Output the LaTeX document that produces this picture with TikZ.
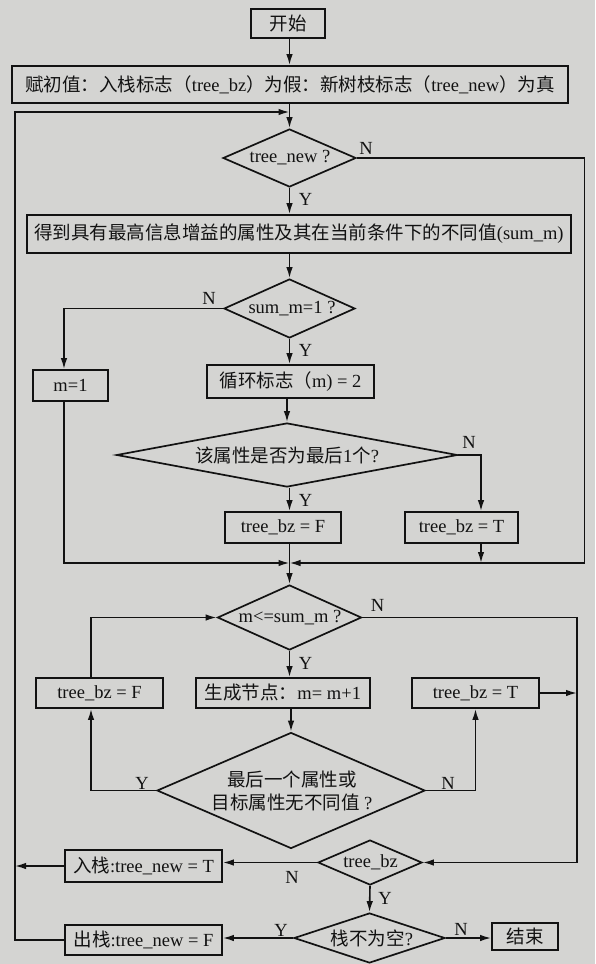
\documentclass[tikz,border=0pt]{standalone}
\usepackage{fontspec}
\setmainfont{Liberation Serif}
\newfontfamily\cjk{Noto Sans CJK SC}
\newcommand{\zhtxt}[1]{{\cjk #1}}
\usetikzlibrary{arrows.meta,shapes.geometric,calc}
\definecolor{bgc}{RGB}{212,212,210}
\definecolor{ink}{RGB}{18,18,18}
\begin{document}
\begin{tikzpicture}[x=1pt,y=-1pt,
  every node/.style={font=\fontsize{18.5}{23}\selectfont, text=ink},
  box/.style={draw=ink, line width=1.7pt, inner sep=0pt, rectangle},
  dia/.style={draw=ink, line width=1.7pt, diamond, inner sep=0pt},
  ln/.style={draw=ink, line width=1.6pt},
  arr/.style={ln, -{Latex[length=11pt,width=6.5pt]}},
  yn/.style={inner sep=0pt}
]
\fill[bgc] (0,0) rectangle (595,964);
\useasboundingbox (0,0) rectangle (595,964);

% boxes
\node[box, minimum width=74pt, minimum height=29pt] (start) at (288,23.5) {\zhtxt{开始}};
\node[box, minimum width=556pt, minimum height=37pt] (init) at (290,84.5)
  {\zhtxt{赋初值：入栈标志（}tree\_bz\zhtxt{）为假：新树枝标志（}tree\_new\zhtxt{）为真}};
\node[box, minimum width=544pt, minimum height=38pt] (b1) at (299,234)
  {\zhtxt{得到具有最高信息增益的属性及其在当前条件下的不同值}(sum\_m)};
\node[box, minimum width=75pt, minimum height=31pt] (m1) at (70.5,385.5) {m=1};
\node[box, minimum width=167pt, minimum height=33pt] (b2) at (290.5,381.5) {\zhtxt{循环标志（}m) = 2};
\node[box, minimum width=116pt, minimum height=31pt] (bF1) at (283,527.5) {tree\_bz = F};
\node[box, minimum width=113pt, minimum height=31pt] (bT1) at (461.5,527.5) {tree\_bz = T};
\node[box, minimum width=127pt, minimum height=30pt] (bF2) at (99.5,693) {tree\_bz = F};
\node[box, minimum width=174pt, minimum height=30pt] (b3) at (283,693) {\zhtxt{生成节点：}m= m+1};
\node[box, minimum width=127pt, minimum height=30pt] (bT2) at (475.5,693) {tree\_bz = T};
\node[box, minimum width=157pt, minimum height=32pt] (push) at (143.5,866) {\zhtxt{入栈}:tree\_new = T};
\node[box, minimum width=157pt, minimum height=30pt] (pop) at (143.5,940) {\zhtxt{出栈}:tree\_new = F};
\node[box, minimum width=66pt, minimum height=27pt] (end) at (525,936.5) {\zhtxt{结束}};

% diamonds
\node[dia, minimum width=133pt, minimum height=58pt] (d1) at (289.5,158) {};
\node (t1) at (290,158) {tree\_new ?};
\node[dia, minimum width=131pt, minimum height=59pt] (d2) at (289.5,308.5) {};
\node (t2) at (292,308.5) {sum\_m=1 ?};
\node[dia, minimum width=341pt, minimum height=64pt] (d3) at (287,455) {};
\node (t3) at (287,455) {\zhtxt{该属性是否为最后}1\zhtxt{个}?};
\node[dia, minimum width=144pt, minimum height=65pt] (d4) at (289.5,617.5) {};
\node (t4) at (290,617.5) {m<=sum\_m ?};
\node[dia, minimum width=268pt, minimum height=116pt] (d5) at (291,790.5) {};
\node[align=center] (t5) at (292,791) {\zhtxt{最后一个属性或}\\\zhtxt{目标属性无不同值} ?};
\node[dia, minimum width=104pt, minimum height=45pt] (d6) at (370,862.5) {};
\node (t6) at (370.5,862.5) {tree\_bz};
\node[dia, minimum width=151pt, minimum height=50pt] (d7) at (369.5,938) {};
\node (t7) at (372,938) {\zhtxt{栈不为空}?};

% helper coordinates
\coordinate (jtop) at (289.5,112);
\coordinate (lx) at (15,112);
\coordinate (j1) at (289.5,563);
\coordinate (rx1) at (584.5,563);
\coordinate (rx2) at (577,862.5);

% connectors
\draw[arr] (start.south -| d1) -- (init.north -| d1);
\draw[arr] (init.south -| d1) -- (d1.north);
\draw[arr] (pop.west) -| (lx) -- (jtop);
\draw[arr] (push.west) -- (push.west -| lx);
\draw[arr] (d1.east) -| (rx1) -- (j1);
\draw[arr] (d1.south) -- (d1.south |- b1.north);
\draw[arr] (b1.south -| d2) -- (d2.north);
\draw[arr] (d2.west) -| ([xshift=-6.5pt]m1.north);
\draw[arr] (d2.south) -- (d2.south |- b2.north);
\draw[arr] (b2.south -| d3.north) -- (d3.north);
\draw[arr] (d3.east) -| ([xshift=19.5pt]bT1.north);
\draw[arr] (d3.south -| j1) -- (bF1.north -| j1);
\draw[arr] ([xshift=19.5pt]bT1.south) -- ([xshift=19.5pt]bT1.south |- j1);
\draw[arr] ([xshift=-6.5pt]m1.south) |- (j1);
\draw[ln] (bF1.south -| j1) -- (j1);
\draw[arr] (j1) -- (d4.north);
\draw[arr] (d4.east) -| (rx2) -- (d6.east);
\draw[arr] (d4.south) -- (d4.south |- b3.north);
\draw[arr] (b3.south -| d5) -- (d5.north);
\draw[arr] (d5.west) -| ([xshift=-8.5pt]bF2.south);
\draw[arr] ([xshift=-8.5pt]bF2.north) |- (d4.west);
\draw[arr] (d5.east) -| (bT2.south);
\draw[arr] (bT2.east) -- (bT2.east -| rx2);
\draw[arr] (d6.west) -- (d6.west -| push.east);
\draw[arr] (d6.south) -- (d7.north);
\draw[arr] (d7.west) -- (d7.west -| pop.east);
\draw[arr] (d7.east) -- (d7.east -| end.west);

% Y / N labels
\node[yn] (n1) at (366,148) {N};
\node[yn] (y1) at (305.5,199) {Y};
\node[yn] (n2) at (209,298) {N};
\node[yn] (y2) at (305.5,350) {Y};
\node[yn] (n3) at (469,442) {N};
\node[yn] (y3) at (305.5,500) {Y};
\node[yn] (n4) at (377.5,605) {N};
\node[yn] (y4) at (305.5,663) {Y};
\node[yn] (y5) at (142,783) {Y};
\node[yn] (n5) at (448,783) {N};
\node[yn] (n6) at (292,877) {N};
\node[yn] (y6) at (385,898) {Y};
\node[yn] (y7) at (281,930) {Y};
\node[yn] (n7) at (461,929) {N};
\end{tikzpicture}
\end{document}
